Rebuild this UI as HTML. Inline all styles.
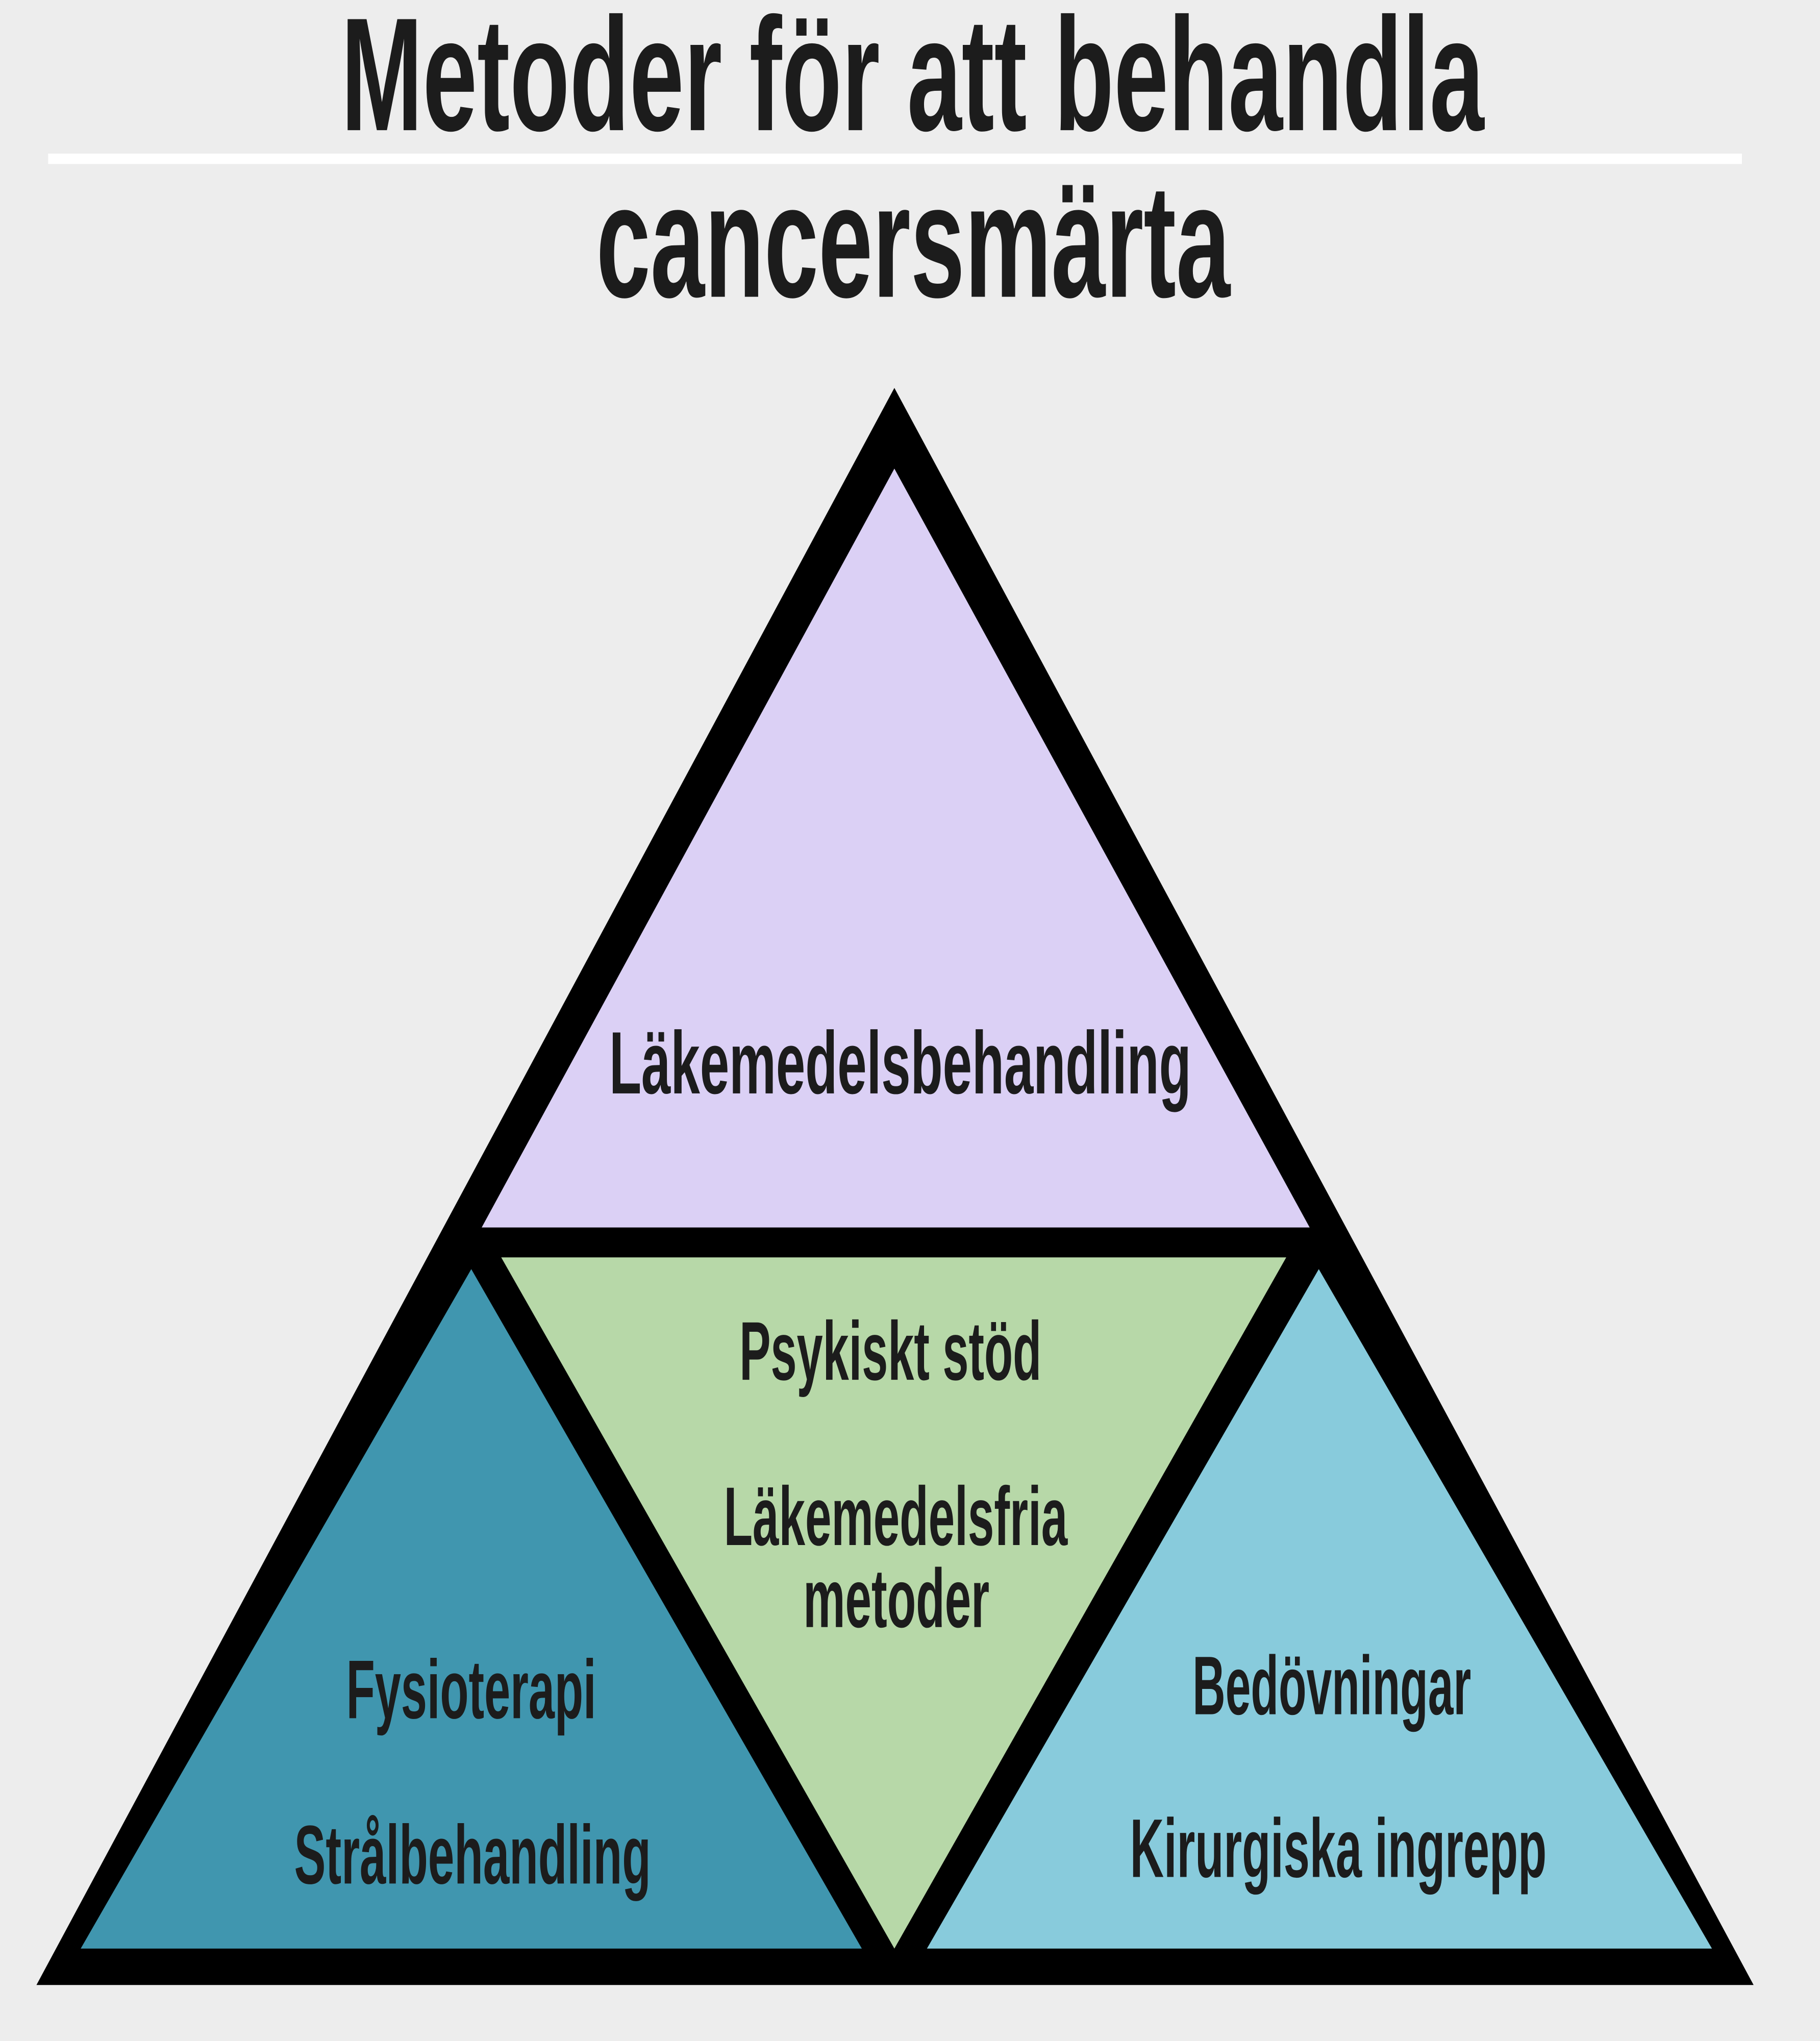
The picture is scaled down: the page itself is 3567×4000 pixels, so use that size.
<!DOCTYPE html>
<html><head><meta charset="utf-8"><style>
html,body{margin:0;padding:0;background:#ededed;}
svg{display:block;}
text{font-family:"Liberation Sans",sans-serif;font-weight:bold;fill:#1c1c1c;}
</style></head><body>
<svg width="3567" height="4000" viewBox="0 0 1398 1568" preserveAspectRatio="none" xmlns="http://www.w3.org/2000/svg">
<rect width="1398" height="1568" fill="#ededed"/>
<text x="262" y="100" font-size="124" textLength="878" lengthAdjust="spacingAndGlyphs">Metoder för att behandla</text>
<rect x="37" y="118" width="1301" height="8" fill="#ffffff"/>
<text x="458" y="228" font-size="124" textLength="487" lengthAdjust="spacingAndGlyphs">cancersmärta</text>
<polygon points="687,298 28,1525 1347,1525" fill="#000"/>
<polygon points="687,360 370,943 1006,943" fill="#dbd0f5"/>
<polygon points="385,966 988,966 687,1497" fill="#b7d8a8"/>
<polygon points="362,975 62,1497 662,1497" fill="#4096af"/>
<polygon points="1013,975 712,1497 1315,1497" fill="#88cbdc"/>
<text x="468" y="840" font-size="68" textLength="447" lengthAdjust="spacingAndGlyphs">Läkemedelsbehandling</text>
<text x="568" y="1060" font-size="64" textLength="232" lengthAdjust="spacingAndGlyphs">Psykiskt stöd</text>
<text x="556" y="1187" font-size="64" textLength="264" lengthAdjust="spacingAndGlyphs">Läkemedelsfria</text>
<text x="617" y="1250" font-size="64" textLength="143" lengthAdjust="spacingAndGlyphs">metoder</text>
<text x="266" y="1320" font-size="64" textLength="192" lengthAdjust="spacingAndGlyphs">Fysioterapi</text>
<text x="226" y="1447" font-size="64" textLength="274" lengthAdjust="spacingAndGlyphs">Strålbehandling</text>
<text x="916" y="1317" font-size="64" textLength="214" lengthAdjust="spacingAndGlyphs">Bedövningar</text>
<text x="868" y="1442" font-size="64" textLength="320" lengthAdjust="spacingAndGlyphs">Kirurgiska ingrepp</text>
</svg>
</body></html>
